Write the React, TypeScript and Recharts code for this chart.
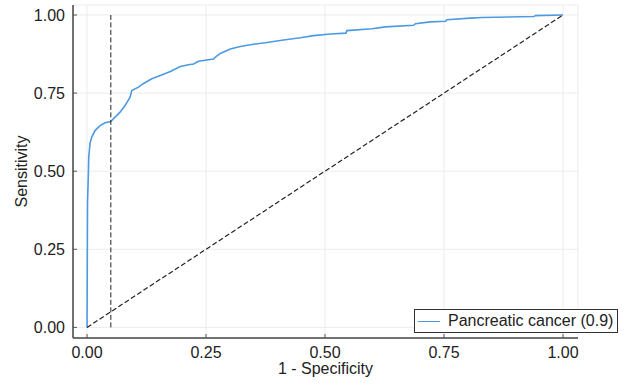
import {
  CartesianGrid,
  Legend,
  Line,
  LineChart,
  ReferenceLine,
  XAxis,
  YAxis,
} from "recharts";

// ROC curve: false positive rate (1 - specificity)
const fpr = [
  0, 0.0005, 0.001, 0.003, 0.0036, 0.0063, 0.0099, 0.0168, 0.0273, 0.0379,
  0.0498, 0.0589, 0.0694, 0.0799, 0.0904, 0.094, 0.108, 0.118, 0.136, 0.154,
  0.175, 0.196, 0.213, 0.224, 0.234, 0.266, 0.271, 0.28, 0.301, 0.322, 0.343,
  0.378, 0.413, 0.448, 0.476, 0.511, 0.544, 0.546, 0.599, 0.627, 0.686, 0.69,
  0.721, 0.753, 0.756, 0.805, 0.83, 0.939, 0.942, 1,
];
// sensitivity (true positive rate)
const tpr = [
  0, 0.2, 0.4, 0.503, 0.545, 0.589, 0.609, 0.63, 0.646, 0.655, 0.659, 0.673,
  0.689, 0.71, 0.737, 0.758, 0.769, 0.78, 0.796, 0.806, 0.819, 0.835, 0.841,
  0.843, 0.852, 0.859, 0.867, 0.877, 0.891, 0.899, 0.905, 0.912, 0.92, 0.927,
  0.934, 0.939, 0.942, 0.95, 0.956, 0.962, 0.967, 0.972, 0.978, 0.98, 0.985,
  0.99, 0.992, 0.995, 0.998, 1,
];

const ticks = [0, 0.25, 0.5, 0.75, 1];
const cutoff = 0.05; // vertical marker at 95% specificity
const seriesName = "Pancreatic cancer (0.9)";

const FONT = "'Liberation Sans', Arial, Helvetica, sans-serif";
const BLUE = "#4d9ae3";
const INK = "#222";

const data = fpr.map((x, i) => ({ x, y: tpr[i] }));

function LegendBox() {
  return (
    <div
      style={{
        display: "flex",
        alignItems: "center",
        height: 22,
        border: "1px solid #333",
        background: "#fff",
        fontFamily: FONT,
        fontSize: 16,
        color: INK,
        padding: "0 4px 0 3px",
        whiteSpace: "nowrap",
      }}
    >
      <span
        style={{
          display: "inline-block",
          width: 22,
          height: 0,
          borderTop: `1.5px solid ${BLUE}`,
          marginRight: 8,
        }}
      />
      {seriesName}
    </div>
  );
}

export default function App() {
  return (
    <div style={{ position: "absolute", left: 0, top: 0, background: "#fff" }}>
      <LineChart
        width={633}
        height={387}
        data={data}
        margin={{ top: 5, right: 55, bottom: 0, left: 0 }}
      >
        <CartesianGrid stroke="#ececec" strokeWidth={1} />
        <XAxis
          type="number"
          dataKey="x"
          domain={[-0.0295, 1.0315]}
          ticks={ticks}
          allowDataOverflow
          height={49}
          tickSize={-4}
          tickMargin={13}
          tickFormatter={(v: number) => v.toFixed(2)}
          tick={{ fontSize: 16, fill: INK, fontFamily: FONT }}
          tickLine={{ stroke: "#555" }}
          axisLine={{ stroke: "#444", strokeWidth: 1.5 }}
          label={{
            content: ({ viewBox }: any) => (
              <text
                x={viewBox.x + viewBox.width / 2}
                y={viewBox.y + viewBox.height - 13}
                textAnchor="middle"
                fontSize={16}
                fontFamily={FONT}
                fill={INK}
              >
                1 - Specificity
              </text>
            ),
          }}
        />
        <YAxis
          type="number"
          domain={[-0.034, 1.032]}
          ticks={ticks}
          allowDataOverflow
          width={73}
          tickSize={-4}
          tickMargin={12}
          tickFormatter={(v: number) => v.toFixed(2)}
          tick={{ fontSize: 16, fill: INK, fontFamily: FONT }}
          tickLine={{ stroke: "#555" }}
          axisLine={{ stroke: "#444", strokeWidth: 1.5 }}
          label={{
            content: ({ viewBox }: any) => {
              const cx = viewBox.x + 21;
              const cy = viewBox.y + viewBox.height / 2;
              return (
                <text
                  x={cx}
                  y={cy}
                  transform={`rotate(-90, ${cx}, ${cy})`}
                  textAnchor="middle"
                  dominantBaseline="central"
                  fontSize={16}
                  fontFamily={FONT}
                  fill={INK}
                >
                  Sensitivity
                </text>
              );
            },
          }}
        />
        <Line
          type="linear"
          dataKey="y"
          name={seriesName}
          stroke={BLUE}
          strokeWidth={1.6}
          dot={false}
          isAnimationActive={false}
        />
        <ReferenceLine
          segment={[
            { x: 0, y: 0 },
            { x: 1, y: 1 },
          ]}
          stroke="#222"
          strokeWidth={1.2}
          strokeDasharray="5 2.5"
        />
        <ReferenceLine
          segment={[
            { x: cutoff, y: 0 },
            { x: cutoff, y: 1 },
          ]}
          stroke="#222"
          strokeWidth={1}
          strokeDasharray="5 2.5"
        />
        <Legend
          layout="horizontal"
          verticalAlign="middle"
          align="center"
          content={() => <LegendBox />}
          wrapperStyle={{ left: 414, top: 309, width: "auto" }}
        />
      </LineChart>
    </div>
  );
}
